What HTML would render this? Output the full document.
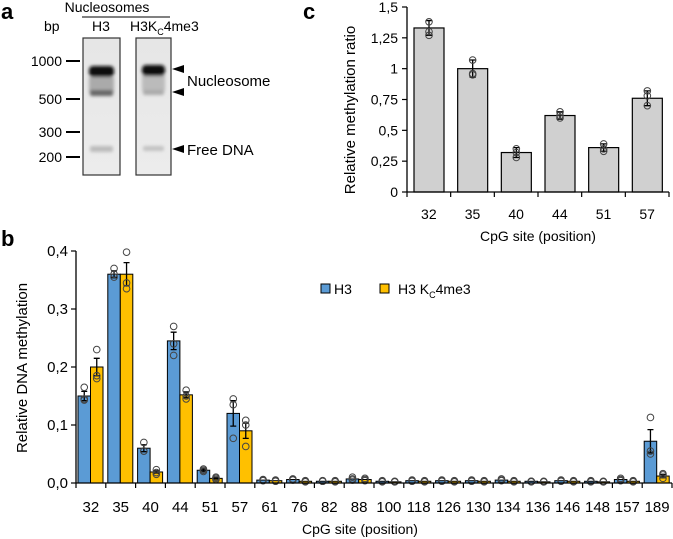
<!DOCTYPE html>
<html><head><meta charset="utf-8"><style>
html,body{margin:0;padding:0;background:#fff;width:673px;height:539px;overflow:hidden}
svg{display:block;font-family:"Liberation Sans",Calibri,sans-serif}
</style></head><body>
<svg id="fig" width="673" height="539" viewBox="0 0 673 539">
<defs>
<linearGradient id="lane" x1="0" x2="0" y1="0" y2="1">
<stop offset="0" stop-color="#e6e6e6"/><stop offset="1" stop-color="#ececec"/></linearGradient>
<filter id="blur"><feGaussianBlur stdDeviation="1.6"/></filter>
</defs>
<!-- Panel a -->
<g>
<text x="1" y="19" font-size="22" font-weight="bold">a</text>
<text x="107" y="12" font-size="14" text-anchor="middle">Nucleosomes</text>
<line x1="82" y1="17" x2="170" y2="17" stroke="#000" stroke-width="1"/>
<text x="101" y="31" font-size="14" text-anchor="middle">H3</text>
<text x="130" y="31" font-size="14">H3K<tspan font-size="9" dy="4">C</tspan><tspan dy="-4">4me3</tspan></text>
<text x="44" y="31" font-size="14">bp</text>
<g font-size="14" text-anchor="end">
<text x="62" y="66">1000</text><text x="62" y="104">500</text><text x="62" y="137">300</text><text x="62" y="162">200</text>
</g>
<g stroke="#000" stroke-width="2">
<line x1="66" y1="61" x2="80" y2="61"/><line x1="66" y1="99" x2="80" y2="99"/><line x1="66" y1="132" x2="80" y2="132"/><line x1="66" y1="157" x2="80" y2="157"/>
</g>
<rect x="83" y="38" width="37" height="137" fill="url(#lane)" stroke="#333" stroke-width="1.2"/>
<rect x="136" y="38" width="35" height="137" fill="url(#lane)" stroke="#333" stroke-width="1.2"/>
<g filter="url(#blur)">
<rect x="89" y="77" width="25" height="16" fill="#aaa"/>
<rect x="89" y="66" width="25" height="11" rx="4" fill="#111"/>
<rect x="90" y="90" width="23" height="6" rx="2" fill="#666"/>
<rect x="90" y="146" width="23" height="6" rx="2" fill="#bbb"/>
<rect x="142" y="75" width="23" height="16" fill="#bbb"/>
<rect x="142" y="65" width="23" height="11" rx="4" fill="#111"/>
<rect x="143" y="90" width="21" height="5" rx="2" fill="#aaa"/>
<rect x="143" y="146" width="21" height="5" rx="2" fill="#c2c2c2"/>
</g>
<g fill="#000">
<polygon points="172,69 184,65 184,73"/><polygon points="172,92 184,88 184,96"/><polygon points="172,149 184,145 184,153"/>
</g>
<text x="187" y="86" font-size="15">Nucleosome</text>
<text x="187" y="155" font-size="15">Free DNA</text>
</g>
<text x="1" y="246" font-size="22" font-weight="bold">b</text>
<text x="303" y="19" font-size="22" font-weight="bold">c</text>
<g id="pb"></g>
<g id="pc"></g>
</svg>
<script>
// Panel b data
const bCats=["32","35","40","44","51","57","61","76","82","88","100","118","126","130","134","136","146","148","157","189"];
const bH3=[0.15,0.36,0.06,0.245,0.022,0.12,0.005,0.006,0.003,0.007,0.003,0.004,0.004,0.004,0.005,0.003,0.004,0.003,0.006,0.072];
const bK4=[0.2,0.36,0.019,0.152,0.008,0.09,0.004,0.003,0.003,0.006,0.002,0.003,0.003,0.003,0.003,0.002,0.003,0.002,0.003,0.012];
const bH3Err=[0.008,0.006,0.006,0.015,0.002,0.022,0,0,0,0,0,0,0,0,0,0,0,0,0,0.02];
const bK4Err=[0.015,0.02,0.002,0.005,0.001,0.013,0,0,0,0,0,0,0,0,0,0,0,0,0,0.003];
const bH3Pts=[[0.165,0.145,0.143],[0.37,0.36,0.355],[0.07,0.055,0.055],[0.27,0.24,0.22],[0.024,0.022,0.02],[0.145,0.135,0.077],[0.006,0.005,0.004],[0.007,0.006,0.005],[0.004,0.003,0.003],[0.01,0.007,0.005],[0.004,0.003,0.002],[0.005,0.004,0.003],[0.005,0.004,0.003],[0.005,0.004,0.003],[0.007,0.005,0.004],[0.003,0.003,0.002],[0.005,0.004,0.003],[0.004,0.003,0.002],[0.008,0.006,0.004],[0.113,0.055,0.05]];
const bK4Pts=[[0.23,0.185,0.18],[0.398,0.345,0.335],[0.023,0.018,0.015],[0.16,0.15,0.145],[0.01,0.008,0.006],[0.108,0.1,0.063],[0.005,0.004,0.003],[0.004,0.003,0.002],[0.004,0.003,0.002],[0.008,0.006,0.004],[0.003,0.002,0.002],[0.004,0.003,0.002],[0.004,0.003,0.002],[0.004,0.003,0.002],[0.004,0.003,0.002],[0.003,0.002,0.002],[0.004,0.003,0.002],[0.003,0.002,0.002],[0.004,0.003,0.002],[0.016,0.014,0.008]];
const bTicks=[0,0.1,0.2,0.3,0.4];
const bTickLabels=["0,0","0,1","0,2","0,3","0,4"];
// Panel c data
const cCats=["32","35","40","44","51","57"];
const cVals=[1.33,1.0,0.32,0.62,0.36,0.76];
const cErr=[0.06,0.07,0.04,0.03,0.03,0.06];
const cPts=[[1.38,1.3,1.27],[1.07,0.96,0.95],[0.35,0.32,0.28],[0.65,0.62,0.6],[0.39,0.35,0.33],[0.82,0.78,0.7]];
const cTicks=[0,0.25,0.5,0.75,1,1.25,1.5];
const cTickLabels=["0","0,25","0,5","0,75","1","1,25","1,5"];

const NS="http://www.w3.org/2000/svg";
function mk(parent,tag,attrs,txt){const e=document.createElementNS(NS,tag);for(const k in attrs)e.setAttribute(k,attrs[k]);if(txt!==undefined)e.textContent=txt;parent.appendChild(e);return e;}

// ---- Panel b
const pb=document.getElementById('pb');
const bx0=76,bx1=672,by0=483,by1=251,bmax=0.4;
const bBand=(bx1-bx0)/bCats.length;
const bY=v=>by0-(v/bmax)*(by0-by1);
const bX=i=>bx0+i*bBand;
function errBar(g,cx,v,e,Y){
  if(e<=0)return;
  const l=mk(g,'path',{d:`M${cx},${Y(v-e)}V${Y(v+e)}M${cx-3},${Y(v+e)}H${cx+3}M${cx-3},${Y(v-e)}H${cx+3}`,stroke:'#000','stroke-width':1.3,fill:'none'});
  
  
}
function dots(g,cx,pts,Y){
  pts.forEach(p=>{const c=mk(g,'circle',{cx:cx,cy:Y(p),r:3.3,fill:'none',stroke:'#444','stroke-width':1});
  
  });
}
bCats.forEach((c,i)=>{
  const x=bX(i);
  const hb=mk(pb,'rect',{x:x+2,y:bY(bH3[i]),width:12.5,height:by0-bY(bH3[i]),fill:'#5b9bd5',stroke:'#000','stroke-width':1});
  
  
  const kb=mk(pb,'rect',{x:x+14.5,y:bY(bK4[i]),width:12.5,height:by0-bY(bK4[i]),fill:'#ffc000',stroke:'#000','stroke-width':1});
  
  
  errBar(pb,x+8.25,bH3[i],bH3Err[i],bY);
  errBar(pb,x+20.75,bK4[i],bK4Err[i],bY);
  dots(pb,x+8.25,bH3Pts[i],bY);
  dots(pb,x+20.75,bK4Pts[i],bY);
  const t=mk(pb,'text',{x:x+bBand/2,y:512,'font-size':15,'text-anchor':'middle'},c);
  
  
});
mk(pb,'line',{x1:bx0,y1:by0,x2:bx1,y2:by0,stroke:'#000','stroke-width':1.3});
mk(pb,'line',{x1:bx0,y1:by0,x2:bx0,y2:by1,stroke:'#000','stroke-width':1.3});
for(let i=0;i<=bCats.length;i++){mk(pb,'line',{x1:bX(i),y1:by0,x2:bX(i),y2:by0+5,stroke:'#000','stroke-width':1.2});}
bTicks.forEach((v,i)=>{
  mk(pb,'line',{x1:bx0-5,y1:bY(v),x2:bx0,y2:bY(v),stroke:'#000','stroke-width':1.2});
  const t=mk(pb,'text',{x:68,y:bY(v)+5,'font-size':15,'text-anchor':'end'},bTickLabels[i]);
  
  
});
let t=mk(pb,'text',{x:360,y:534,'font-size':14,'text-anchor':'middle'},'CpG site (position)');


t=mk(pb,'text',{x:0,y:0,'font-size':15,'text-anchor':'middle',transform:'translate(27,368) rotate(-90)'},'Relative DNA methylation');


// legend
let lg=mk(pb,'g',{});


mk(lg,'rect',{x:321,y:284,width:9,height:9,fill:'#5b9bd5',stroke:'#000','stroke-width':1});
mk(lg,'text',{x:334,y:294,'font-size':14},'H3');
mk(lg,'rect',{x:380,y:284,width:9,height:9,fill:'#ffc000',stroke:'#000','stroke-width':1});
const lt=mk(lg,'text',{x:398,y:294,'font-size':14},'H3 K');
mk(lt,'tspan',{'font-size':9,dy:4},'C');
mk(lt,'tspan',{dy:-4},'4me3');

// ---- Panel c
const pc=document.getElementById('pc');
const cx0=407,cx1=669,cy0=192,cy1=7,cmax=1.5;
const cBand=(cx1-cx0)/cCats.length;
const cY=v=>cy0-(v/cmax)*(cy0-cy1);
const cX=i=>cx0+i*cBand;
cCats.forEach((c,i)=>{
  const x=cX(i);
  const b=mk(pc,'rect',{x:x+7,y:cY(cVals[i]),width:30,height:cy0-cY(cVals[i]),fill:'#d0d0d0',stroke:'#000','stroke-width':1.2});
  
  
  errBar(pc,x+22,cVals[i],cErr[i],cY);
  dots(pc,x+22,cPts[i],cY);
  const tt=mk(pc,'text',{x:x+cBand/2,y:219,'font-size':14,'text-anchor':'middle'},c);
  
  
});
mk(pc,'line',{x1:cx0,y1:cy0,x2:cx1,y2:cy0,stroke:'#000','stroke-width':1.3});
mk(pc,'line',{x1:cx0,y1:cy0,x2:cx0,y2:cy1,stroke:'#000','stroke-width':1.3});
for(let i=0;i<=cCats.length;i++){mk(pc,'line',{x1:cX(i),y1:cy0,x2:cX(i),y2:cy0+5,stroke:'#000','stroke-width':1.2});}
cTicks.forEach((v,i)=>{
  mk(pc,'line',{x1:cx0-5,y1:cY(v),x2:cx0,y2:cY(v),stroke:'#000','stroke-width':1.2});
  const tt=mk(pc,'text',{x:398,y:cY(v)+5,'font-size':14,'text-anchor':'end'},cTickLabels[i]);
  
  
});
t=mk(pc,'text',{x:538,y:241,'font-size':14,'text-anchor':'middle'},'CpG site (position)');


t=mk(pc,'text',{x:0,y:0,'font-size':15,'text-anchor':'middle',transform:'translate(355,110) rotate(-90)'},'Relative methylation ratio');


</script>
</body></html>
